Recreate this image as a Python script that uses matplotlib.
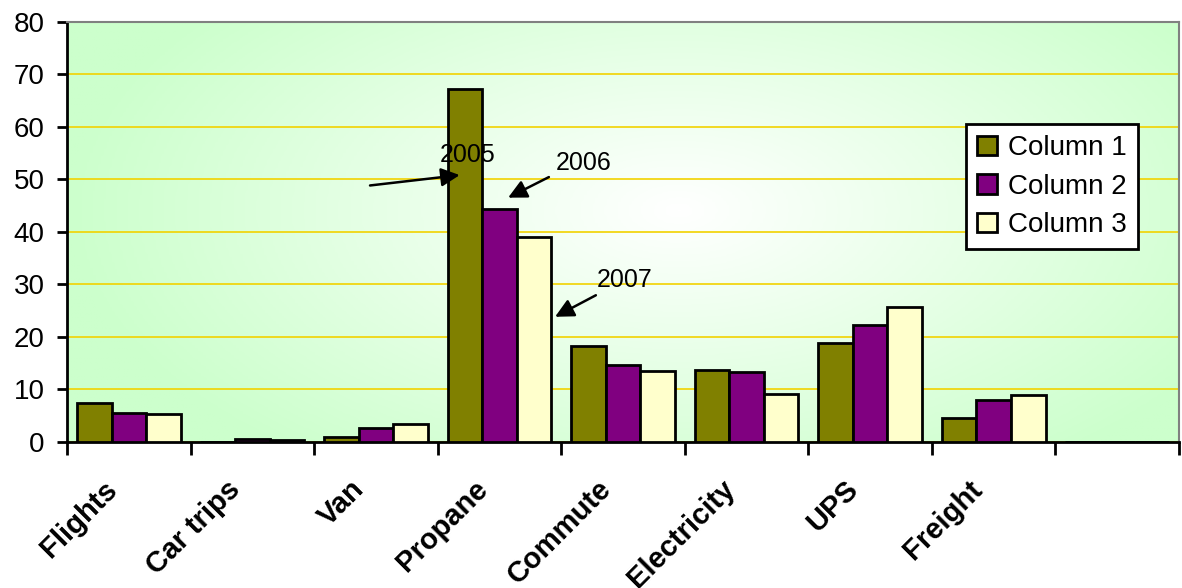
import numpy as np
import matplotlib
matplotlib.use('Agg')
import matplotlib.pyplot as plt
import matplotlib.transforms as mtransforms
from matplotlib.colors import LinearSegmentedColormap

plt.rcParams['font.family'] = ['Liberation Sans', 'DejaVu Sans']

categories = ['Flights', 'Car trips', 'Van', 'Propane', 'Commute',
              'Electricity', 'UPS', 'Freight', '']
col1 = [7.5, 0.0, 0.9, 67.3, 18.3, 13.8, 18.9, 4.6, 0.0]
col2 = [5.5, 0.65, 2.6, 44.4, 14.6, 13.4, 22.3, 8.0, 0.0]
col3 = [5.3, 0.4, 3.4, 39.0, 13.6, 9.2, 25.7, 8.9, 0.0]
series_names = ['Column 1', 'Column 2', 'Column 3']
colors = ['#808000', '#800080', '#FFFFCC']

fig = plt.figure(figsize=(11.82, 5.88), dpi=100)
ax = fig.add_axes([0.0567, 0.2483, 0.9408, 0.7143])

# radial green-to-white fill behind the plot area
gx, gy = np.meshgrid(np.linspace(0, 1, 400), np.linspace(0, 1, 300))
dist = np.sqrt(((gx - 0.55) / 0.55) ** 2 + ((gy - 0.55) / 0.75) ** 2)
dist = np.clip(dist, 0, 1)
bg_cmap = LinearSegmentedColormap.from_list('bg', ['#FFFFFF', '#E6FFE6', '#CCFFCC'])
ax.imshow(dist, cmap=bg_cmap, extent=[0, 1, 0, 1], transform=ax.transAxes,
          aspect='auto', origin='lower', zorder=0, vmin=0, vmax=1)

x = np.arange(len(categories))
w = 0.28
for i, (vals, name, c) in enumerate(zip([col1, col2, col3], series_names, colors)):
    ax.bar(x + (i - 1) * w, vals, w, color=c, edgecolor='black', linewidth=2,
           label=name, zorder=3)

ax.set_xlim(-0.5, len(categories) - 0.5)
ax.set_ylim(0, 80)
ax.set_yticks(np.arange(0, 81, 10))
ax.grid(axis='y', color='#F2D200', linewidth=1.2, zorder=1)

# tick marks sit on the group boundaries, names are slanted text under each group
ax.set_xticks(np.arange(-0.5, len(categories)))
ax.set_xticklabels([])
ax.tick_params(axis='x', length=9, width=2, direction='out')
ax.tick_params(axis='y', length=7, width=2, labelsize=20, pad=9)

lbl_tr = ax.get_xaxis_transform() + mtransforms.ScaledTranslation(
    -26 / 100, -33 / 100, fig.dpi_scale_trans)
for xi, name in zip(x, categories):
    ax.text(xi, 0, name, transform=lbl_tr, rotation=45, ha='right', va='top',
            rotation_mode='anchor', fontweight='bold', fontsize=21)

for s in ['left', 'bottom']:
    ax.spines[s].set_linewidth(2)
    ax.spines[s].set_color('black')
for s in ['top', 'right']:
    ax.spines[s].set_linewidth(1.5)
    ax.spines[s].set_color('#808080')

# year callouts
arrow = dict(arrowstyle='-|>', color='black', lw=1.8, mutation_scale=28)
ax.annotate('', xy=(2.70, 50.9), xytext=(1.93, 48.8), arrowprops=arrow, zorder=5)
ax.text(2.74, 54.7, '2005', fontsize=18, ha='center', va='center', zorder=5)
ax.annotate('', xy=(3.05, 46.3), xytext=(3.42, 50.7), arrowprops=arrow, zorder=5)
ax.text(3.68, 53.1, '2006', fontsize=18, ha='center', va='center', zorder=5)
ax.annotate('', xy=(3.43, 23.6), xytext=(3.80, 28.2), arrowprops=arrow, zorder=5)
ax.text(4.01, 30.9, '2007', fontsize=18, ha='center', va='center', zorder=5)

leg = ax.legend(loc='upper right', bbox_to_anchor=(0.963, 0.757), fontsize=20,
                fancybox=False, framealpha=1, edgecolor='black',
                handlelength=0.7, handleheight=0.7, handletextpad=0.4,
                borderpad=0.4, labelspacing=0.45, borderaxespad=0)
leg.get_frame().set_linewidth(2)
leg.set_zorder(6)

fig.savefig('out.png', dpi=100)
